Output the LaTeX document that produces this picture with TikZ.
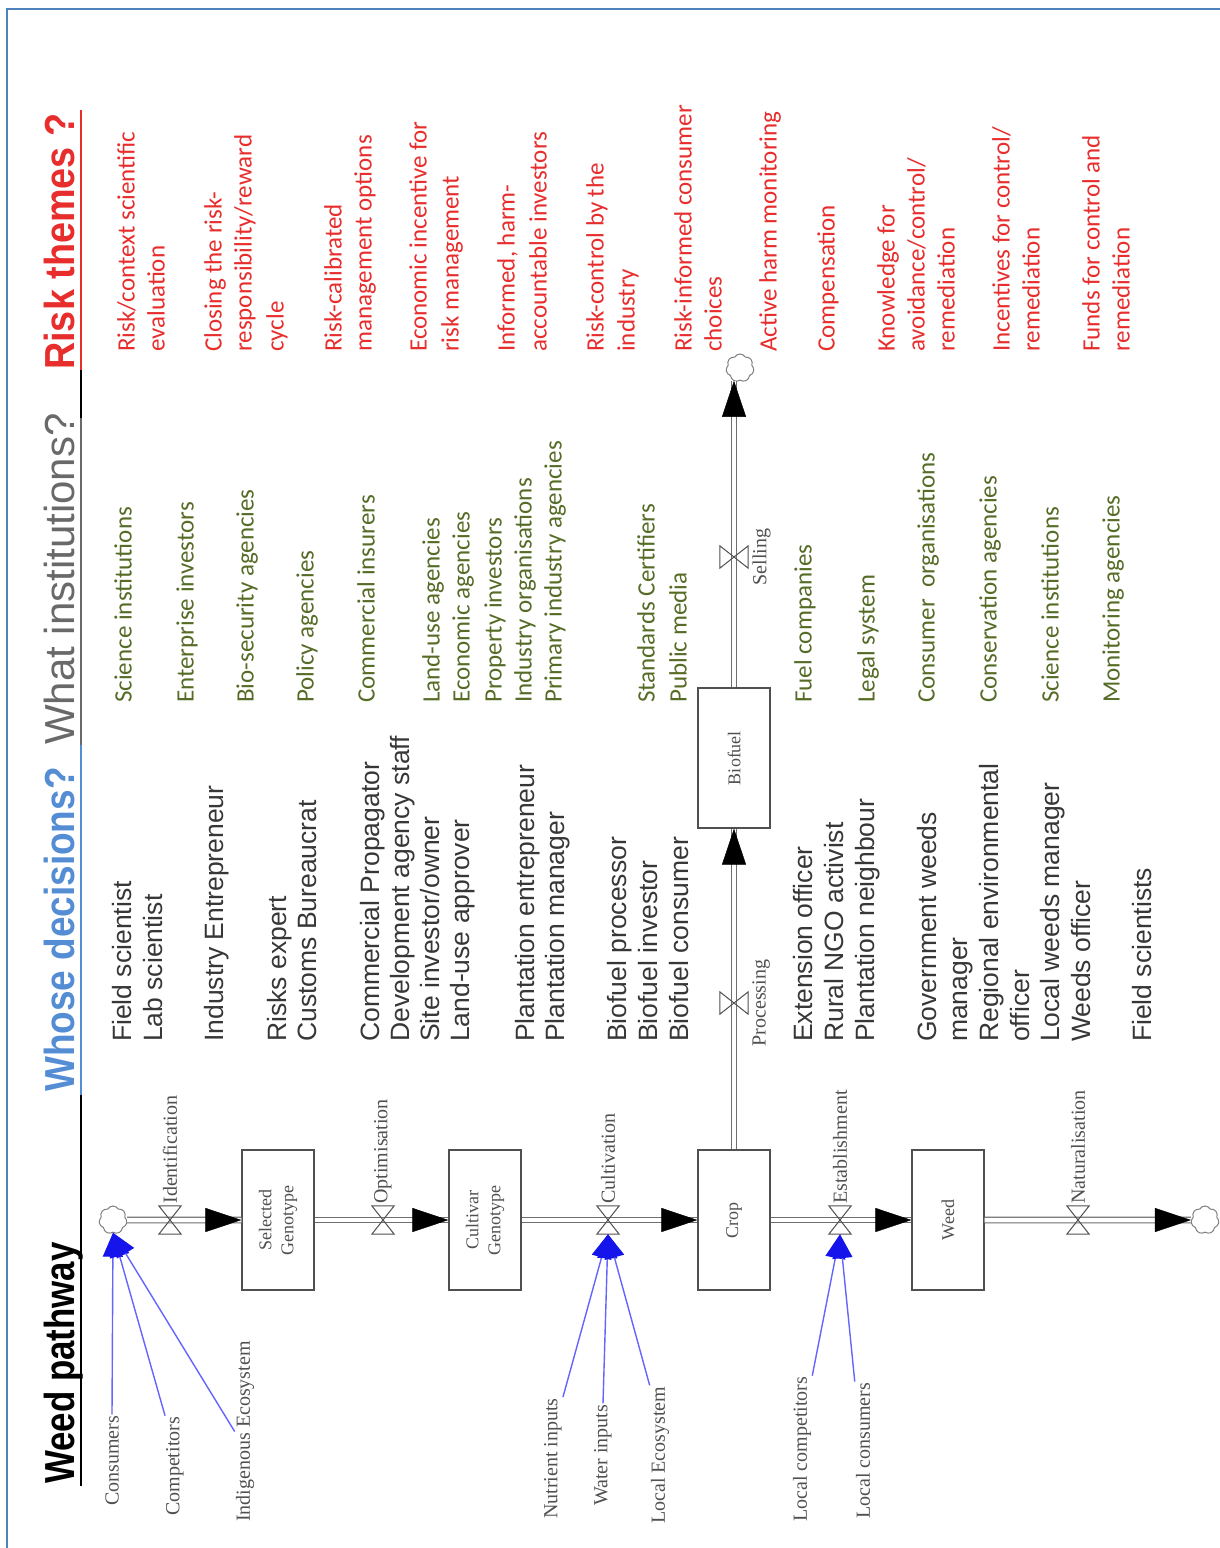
\documentclass[tikz,border=0pt]{standalone}
\usepackage{fontspec}
\usepackage{graphicx}
\setmainfont{Liberation Serif}
\newfontfamily\arialf{Liberation Sans}
\newfontfamily\calibf{Carlito}
\usetikzlibrary{arrows.meta,shapes.symbols}
\definecolor{bordercol}{RGB}{79,129,189}
\definecolor{hdblue}{RGB}{84,141,212}
\definecolor{hdgray}{RGB}{105,105,105}
\definecolor{riskred}{RGB}{232,45,45}
\definecolor{instgreen}{RGB}{86,108,38}
\definecolor{whocol}{RGB}{55,55,55}
\definecolor{pipecol}{RGB}{110,110,110}
\definecolor{arrowblue}{RGB}{20,20,235}
\definecolor{lineblue}{RGB}{100,100,255}
\definecolor{sdgray}{RGB}{80,80,80}
\newcommand\pipeseg[2]{\draw[pipe] (#1) -- (#2);\draw[pipetip] (#1) -- (#2);}
\begin{document}
\begin{tikzpicture}[x=1pt,y=-1pt,
  whotxt/.style={rotate=90,anchor=west,inner sep=0pt,text height=19pt,text depth=5.5pt,font=\arialf\fontsize{26.5}{30}\selectfont,text=whocol},
  insttxt/.style={rotate=90,anchor=west,inner sep=0pt,text height=18pt,text depth=5pt,font=\calibf\fontsize{25}{30}\selectfont,text=instgreen},
  risktxt/.style={rotate=90,anchor=west,inner sep=0pt,text height=18pt,text depth=5pt,font=\calibf\fontsize{25}{30}\selectfont,text=riskred},
  header/.style={rotate=90,anchor=base west,inner sep=0pt},
  stock/.style={draw=sdgray,line width=1.2pt,fill=white,minimum width=72pt,minimum height=140pt,inner sep=0pt},
  stocklab/.style={rotate=90,align=center,inner sep=0pt,font=\fontsize{18}{22}\selectfont,text=sdgray},
  cloudnode/.style={cloud,cloud puffs=7,cloud puff arc=120,aspect=1,draw=gray,line width=1pt,fill=white,minimum width=28pt,minimum height=28pt,inner sep=0pt},
  valvebox/.style={minimum width=22pt,minimum height=28pt,inner sep=0pt},
  valveboxv/.style={minimum width=28pt,minimum height=22pt,inner sep=0pt},
  valveline/.style={draw=sdgray,line width=1pt},
  vlab/.style={rotate=90,inner sep=2pt,font=\fontsize{20}{22}\selectfont,text=sdgray},
  bl/.style={rotate=90,anchor=west,inner sep=1pt,font=\fontsize{20}{22}\selectfont,text=sdgray},
  pipe/.style={draw=pipecol,line width=1.2pt,double=white,double distance=4.5pt},
  pipetip/.style={draw=white,line width=0.4pt,-{Triangle[length=36pt,width=24pt,color=black]}},
  bluearr/.style={draw=lineblue,line width=1.4pt,-{Triangle[length=24pt,width=20pt,color=arrowblue]}}
]
\fill[white] (0,0) rectangle (1219,1548);
\useasboundingbox (0,0) rectangle (1219,1548);
\draw[bordercol,line width=2pt] (7,1550) -- (7,9) -- (1221,9);

% headers
\node[header] (hW) at (74,1484) {\arialf\bfseries\fontsize{42}{42}\selectfont\scalebox{0.83}[1]{Weed pathway}};
\node[header,text=hdblue] (hD) at (74,1092) {\arialf\bfseries\fontsize{42}{42}\selectfont\scalebox{0.88}[1]{Whose decisions?}};
\node[header,text=hdgray] (hI) at (74,745) {\arialf\fontsize{42}{42}\selectfont What institutions?};
\node[header,text=riskred] (hR) at (74,370) {\arialf\bfseries\fontsize{42}{42}\selectfont\scalebox{0.9}[1]{Risk themes ?}};
\draw[riskred,line width=2.5pt] (81,110) -- (81,370);
\draw[black,line width=2.5pt] (81,370) -- (81,418);
\draw[hdgray,line width=2pt] (81,418) -- (81,745);
\draw[hdblue,line width=2pt] (81,745) -- (81,1095);
\draw[black,line width=2.5pt] (81,1095) -- (81,1486);

% whose decisions
\foreach \xx/\mytext [count=\i] in {125/{Field scientist},156/{Lab scientist},217/{Industry Entrepreneur},280/{Risks expert},310/{Customs Bureaucrat},373/{Commercial Propagator},403/{Development agency staff},433/{Site investor/owner},463/{Land-use approver},528/{Plantation entrepreneur},558/{Plantation manager},620/{Biofuel processor},651/{Biofuel investor},682/{Biofuel consumer},806/{Extension officer},837/{Rural NGO activist},868/{Plantation neighbour},930/{Government weeds},961/{manager},992/{Regional environmental},1023/{officer},1053/{Local weeds manager},1084/{Weeds officer},1145/{Field scientists}}
  \node[whotxt] (who\i) at (\xx,1042) {\mytext};

% institutions
\foreach \xx/\mytext [count=\i] in {125/{Science institutions},187/{Enterprise investors},247/{Bio-security agencies},307/{Policy agencies},368/{Commercial insurers},433/{Land-use agencies},463/{Economic agencies},495/{Property investors},525/{Industry organisations},555/{Primary industry agencies},648/{Standards Certifiers},680/{Public media},805/{Fuel companies},868/{Legal system},928/{Consumer~ organisations},990/{Conservation agencies},1052/{Science institutions},1113/{Monitoring agencies}}
  \node[insttxt] (inst\i) at (\xx,703) {\mytext};

% risk themes
\foreach \xx/\mytext [count=\i] in {128/{Risk/context scientific},158/{evaluation},215/{Closing the risk-},245/{responsibility/reward},277/{cycle},335/{Risk-calibrated},365/{management options},420/{Economic incentive for},452/{risk management},508/{Informed, harm-},540/{accountable investors},597/{Risk-control by the},628/{industry},685/{Risk-informed consumer},715/{choices},770/{Active harm monitoring},828/{Compensation},888/{Knowledge for},918/{avoidance/control/},948/{remediation},1003/{Incentives for control/},1033/{remediation},1093/{Funds for control and},1123/{remediation}}
  \node[risktxt] (risk\i) at (\xx,352) {\mytext};

% stocks
\node[stock] (sel) at (278,1220) {};
\node[stocklab] (selL) at (sel.center) {Selected\\Genotype};
\node[stock] (cult) at (485,1220) {};
\node[stocklab] (cultL) at (cult.center) {Cultivar\\Genotype};
\node[stock] (crop) at (734,1220) {};
\node[stocklab] (cropL) at (crop.center) {Crop};
\node[stock] (weed) at (948,1220) {};
\node[stocklab] (weedL) at (weed.center) {Weed};
\node[stock] (bio) at (734,758) {};
\node[stocklab] (bioL) at (bio.center) {Biofuel};

% clouds
\node[cloudnode] (src) at (113,1220) {};
\node[cloudnode] (sink) at (1205,1220) {};
\node[cloudnode] (sinkB) at (740,368) {};

% pipes
\pipeseg{src.east}{sel.west}
\pipeseg{sel.east}{cult.west}
\pipeseg{cult.east}{crop.west}
\pipeseg{crop.east}{weed.west}
\pipeseg{weed.east}{sink.west}
\pipeseg{crop.north}{bio.south}
\pipeseg{bio.north}{bio.north |- sinkB.south}

% valves
\node[valvebox] (v1) at (170,1220) {};
\node[valvebox] (v2) at (383,1220) {};
\node[valvebox] (v3) at (608,1220) {};
\node[valvebox] (v4) at (840,1220) {};
\node[valvebox] (v5) at (1078,1220) {};
\node[valveboxv] (vP) at (734,1003) {};
\node[valveboxv] (vS) at (734,557) {};
\foreach \v in {v1,v2,v3,v4,v5}
  \draw[valveline] (\v.north west) -- (\v.north east) -- (\v.south west) -- (\v.south east) -- cycle;
\foreach \v in {vP,vS}
  \draw[valveline] (\v.north west) -- (\v.south west) -- (\v.north east) -- (\v.south east) -- cycle;
\node[vlab,anchor=west] (v1L) at (v1.north) {Identification};
\node[vlab,anchor=west] (v2L) at (v2.north) {Optimisation};
\node[vlab,anchor=west] (v3L) at (v3.north) {Cultivation};
\node[vlab,anchor=west] (v4L) at (v4.north) {Establishment};
\node[vlab,anchor=west] (v5L) at (v5.north) {Naturalisation};
\node[vlab,anchor=north,inner sep=4pt] (vPL) at (vP.east) {Processing};
\node[vlab,anchor=north,inner sep=4pt] (vSL) at (vS.east) {Selling};

% auxiliary labels and links
\node[bl] (lc1) at (112,1507) {Consumers};
\node[bl] (lc2) at (175,1517) {Competitors};
\node[bl] (lc3) at (245,1523) {Indigenous Ecosystem};
\node[bl] (ln1) at (553,1520) {Nutrient inputs};
\node[bl] (ln2) at (603,1507) {Water inputs};
\node[bl] (ln3) at (660,1525) {Local Ecosystem};
\node[bl] (le1) at (802,1523) {Local competitors};
\node[bl] (le2) at (863,1520) {Local consumers};
\draw[bluearr] (lc1.east) -- (src.south);
\draw[bluearr] (lc2.north east) -- (src.south);
\draw[bluearr] (lc3.north) -- (src.south);
\draw[bluearr] (ln1.south east) -- (v3.south);
\draw[bluearr] (ln2.east) -- (v3.south);
\draw[bluearr] (ln3.north east) -- (v3.south);
\draw[bluearr] (le1.south east) -- (v4.south);
\draw[bluearr] (le2.north east) -- (v4.south);
\end{tikzpicture}
\end{document}
